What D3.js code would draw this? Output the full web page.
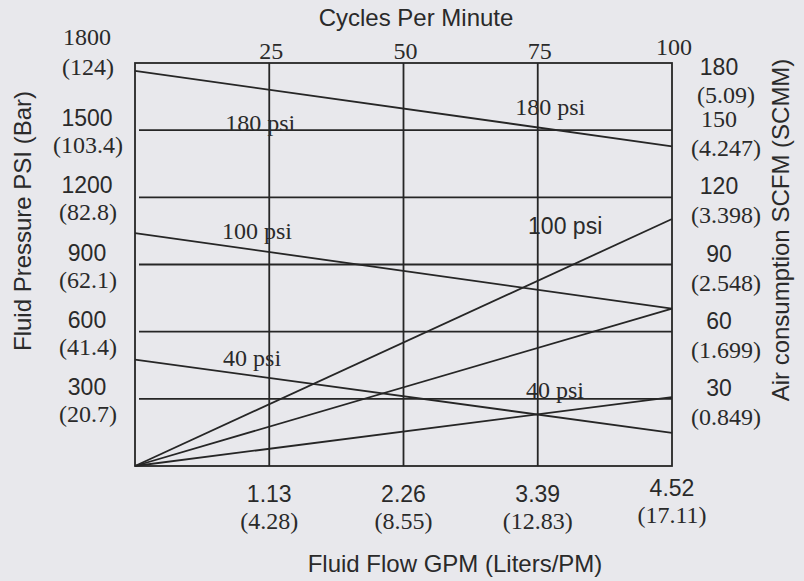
<!DOCTYPE html>
<html>
<head>
<meta charset="utf-8">
<script src="https://cdn.jsdelivr.net/npm/d3@7"></script>
<style>
  html, body { margin: 0; padding: 0; background: #e8e8ec; }
  svg { display: block; }
  .sans { font-family: "Liberation Sans", Arial, sans-serif; }
  .serif { font-family: "Liberation Serif", "Times New Roman", serif; }
</style>
</head>
<body>
<svg id="chart" width="804" height="581"></svg>
<script>
// ---------- DATA ----------
const cyclesTicks = [25, 50, 75, 100];
const gpmLabels = ["1.13", "2.26", "3.39", "4.52"];
const lpmLabels = ["(4.28)", "(8.55)", "(12.83)", "(17.11)"];

const psiTicks = [300, 600, 900, 1200, 1500, 1800];
const barLabels = ["(20.7)", "(41.4)", "(62.1)", "(82.8)", "(103.4)", "(124)"];

const scfmTicks = [30, 60, 90, 120, 150, 180];
const scmmLabels = ["(0.849)", "(1.699)", "(2.548)", "(3.398)", "(4.247)", "(5.09)"];

const airPressures = ["40 psi", "100 psi", "180 psi"];
// fluid pressure (psi) at 0 and 100 cycles per minute
const fluidPressureStart = [475, 1040, 1765];
const fluidPressureEnd = [148, 703, 1428];
// air consumption (SCFM) at 0 and 100 cycles per minute
const airConsumptionStart = [0, 0, 0];
const airConsumptionEnd = [30.8, 70.3, 110.3];

// curve label annotations, in data units (cycles, psi)
const labelText = ["180 psi", "100 psi", "40 psi", "180 psi", "100 psi", "40 psi"];
const labelCycles = [16.8, 16.2, 16.4, 70.8, 73.2, 72.8];
const labelPsi = [1495, 1016, 448, 1567, 1034, 304];

// ---------- STYLE ----------
const ink = "#262626";
const textInk = "#2a2a2a";
const lw = 1.8;
const serifNumberTicks = new Set(["1800", "150"]);
const sansCurveLabels = new Set([4]);

// ---------- LAYOUT ----------
const svg = d3.select("#chart");
const M = { left: 135, right: 672, top: 63, bottom: 466 };

const x = d3.scaleLinear().domain([0, 100]).range([M.left, M.right]);
const yP = d3.scaleLinear().domain([0, 1800]).range([M.bottom, M.top]);
const yA = d3.scaleLinear().domain([0, 180]).range([M.bottom, M.top]);

const g = svg.append("g");

// horizontal grid lines
g.selectAll("line.hgrid").data(psiTicks.slice(0, -1)).join("line")
  .attr("x1", x(0) + 4).attr("x2", x(100))
  .attr("y1", d => yP(d)).attr("y2", d => yP(d))
  .attr("stroke", ink).attr("stroke-width", lw);

// vertical grid lines
g.selectAll("line.vgrid").data(cyclesTicks.slice(0, -1)).join("line")
  .attr("x1", d => x(d)).attr("x2", d => x(d))
  .attr("y1", yP(1800)).attr("y2", yP(0))
  .attr("stroke", ink).attr("stroke-width", lw);

// frame
g.append("rect")
  .attr("x", x(0)).attr("y", yP(1800))
  .attr("width", x(100) - x(0)).attr("height", yP(0) - yP(1800))
  .attr("fill", "none").attr("stroke", ink).attr("stroke-width", lw);

// fluid pressure lines
const lineP = d3.line().x(d => x(d[0])).y(d => yP(d[1]));
airPressures.forEach((p, i) => {
  g.append("path")
    .attr("d", lineP([[0, fluidPressureStart[i]], [100, fluidPressureEnd[i]]]))
    .attr("fill", "none").attr("stroke", ink).attr("stroke-width", lw);
});
// air consumption lines
const lineA = d3.line().x(d => x(d[0])).y(d => yA(d[1]));
airPressures.forEach((p, i) => {
  g.append("path")
    .attr("d", lineA([[0, airConsumptionStart[i]], [100, airConsumptionEnd[i]]]))
    .attr("fill", "none").attr("stroke", ink).attr("stroke-width", lw);
});

// curve labels
labelText.forEach((t, i) => {
  g.append("text")
    .attr("class", sansCurveLabels.has(i) ? "sans" : "serif")
    .attr("x", x(labelCycles[i])).attr("y", yP(labelPsi[i]))
    .attr("font-size", sansCurveLabels.has(i) ? 23 : 24)
    .attr("fill", textInk)
    .text(t);
});

// top axis (cycles)
g.selectAll("text.top").data(cyclesTicks).join("text")
  .attr("class", "serif")
  .attr("x", d => x(d) + 2).attr("y", (d, i) => yP(1800) - (i === cyclesTicks.length - 1 ? 8 : 4))
  .attr("text-anchor", "middle").attr("font-size", 24).attr("fill", textInk)
  .text(d => d);

// bottom axis (GPM / LPM)
cyclesTicks.forEach((c, i) => {
  const last = i === cyclesTicks.length - 1;
  g.append("text").attr("class", "sans")
    .attr("x", x(c)).attr("y", yP(0) + (last ? 30 : 36))
    .attr("text-anchor", "middle").attr("font-size", 23).attr("fill", textInk)
    .text(gpmLabels[i]);
  g.append("text").attr("class", "serif")
    .attr("x", x(c)).attr("y", yP(0) + (last ? 57 : 63))
    .attr("text-anchor", "middle").attr("font-size", 24).attr("fill", textInk)
    .text(lpmLabels[i]);
});

// left axis (PSI / Bar)
psiTicks.forEach((v, i) => {
  const top = v === 1800;
  const s = String(v);
  g.append("text").attr("class", serifNumberTicks.has(s) ? "serif" : "sans")
    .attr("x", 87).attr("y", yP(v) + (top ? -18 : -4))
    .attr("text-anchor", "middle").attr("font-size", serifNumberTicks.has(s) ? 24 : 23).attr("fill", textInk)
    .text(s);
  g.append("text").attr("class", "serif")
    .attr("x", 88).attr("y", yP(v) + (top ? 12 : 23))
    .attr("text-anchor", "middle").attr("font-size", 24).attr("fill", textInk)
    .text(barLabels[i]);
});

// right axis (SCFM / SCMM)
scfmTicks.forEach((v, i) => {
  const top = v === 180;
  const s = String(v);
  g.append("text").attr("class", serifNumberTicks.has(s) ? "serif" : "sans")
    .attr("x", 719).attr("y", yA(v) + (top ? 12 : -3))
    .attr("text-anchor", "middle").attr("font-size", serifNumberTicks.has(s) ? 24 : 23).attr("fill", textInk)
    .text(s);
  g.append("text").attr("class", "serif")
    .attr("x", 726).attr("y", yA(v) + (top ? 40 : 26))
    .attr("text-anchor", "middle").attr("font-size", 24).attr("fill", textInk)
    .text(scmmLabels[i]);
});

// axis titles
svg.append("text").attr("class", "sans")
  .attr("x", 416).attr("y", 26).attr("text-anchor", "middle")
  .attr("font-size", 24).attr("fill", textInk).text("Cycles Per Minute");
svg.append("text").attr("class", "sans")
  .attr("x", 455).attr("y", 572).attr("text-anchor", "middle")
  .attr("font-size", 24).attr("fill", textInk).text("Fluid Flow GPM (Liters/PM)");
svg.append("text").attr("class", "sans")
  .attr("transform", "translate(31,221) rotate(-90)").attr("text-anchor", "middle")
  .attr("font-size", 24).attr("fill", textInk).text("Fluid Pressure PSI (Bar)");
svg.append("text").attr("class", "sans")
  .attr("transform", "translate(789,230) rotate(-90)").attr("text-anchor", "middle")
  .attr("font-size", 24).attr("fill", textInk).text("Air consumption SCFM (SCMM)");
</script>
</body>
</html>
